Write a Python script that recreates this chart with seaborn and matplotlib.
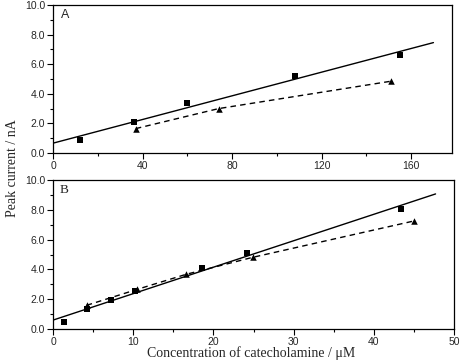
import numpy as np
import pandas as pd
import matplotlib
matplotlib.use("Agg")
import matplotlib.pyplot as plt
import seaborn as sns
from matplotlib.ticker import MultipleLocator, FormatStrFormatter

# ---- data ----
a_sq_x = [12, 36, 60, 108, 155]
a_sq_y = [0.85, 2.1, 3.4, 5.2, 6.6]
a_tri_x = [37, 74, 151]
a_tri_y = [1.65, 3.0, 4.85]

b_sq_x = [1.4, 4.3, 7.25, 10.2, 18.6, 24.2, 43.4]
b_sq_y = [0.47, 1.36, 1.93, 2.57, 4.09, 5.1, 8.07]
b_tri_x = [4.2, 10.5, 16.6, 24.9, 45.0]
b_tri_y = [1.59, 2.66, 3.67, 4.81, 7.25]

panel_labels = ["A", "B"]
xlabel = "Concentration of catecholamine / \u03bcM"
ylabel = "Peak current / nA"

sns.set_style("ticks")
plt.rcParams["font.family"] = "sans-serif"
plt.rcParams["font.sans-serif"] = ["Liberation Sans", "Arial", "DejaVu Sans"]

fig = plt.figure(figsize=(4.61, 3.63), dpi=100)
axA = fig.add_axes([53/461, 1-153/363, (452-53)/461, 148/363])
axB = fig.add_axes([53/461, 1-329/363, (454-53)/461, 149/363])

def draw(ax, sx, sy, tx, ty, fit_end, xlim, xmaj, xmin):
    dfs = pd.DataFrame({"x": sx, "y": sy})
    dft = pd.DataFrame({"x": tx, "y": ty})
    k, b0 = np.polyfit(sx, sy, 1)
    xs = np.array([0, fit_end])
    fit = pd.DataFrame({"x": xs, "y": k * xs + b0})
    sns.lineplot(data=fit, x="x", y="y", ax=ax, color="black", lw=1.0)
    sns.lineplot(data=dft, x="x", y="y", ax=ax, color="black", lw=1.0,
                 linestyle=(0, (4, 3)))
    sns.scatterplot(data=dfs, x="x", y="y", ax=ax, marker="s", color="black",
                    s=15, edgecolor="black", linewidth=0, zorder=5)
    sns.scatterplot(data=dft, x="x", y="y", ax=ax, marker="^", color="black",
                    s=22, edgecolor="black", linewidth=0, zorder=5)
    ax.set_xlim(*xlim)
    ax.set_ylim(0, 10)
    ax.xaxis.set_major_locator(MultipleLocator(xmaj))
    ax.xaxis.set_minor_locator(MultipleLocator(xmin))
    ax.yaxis.set_major_locator(MultipleLocator(2))
    ax.yaxis.set_minor_locator(MultipleLocator(1))
    ax.yaxis.set_major_formatter(FormatStrFormatter("%.1f"))
    ax.tick_params(which="major", length=4, width=0.8, labelsize=7.5, pad=1.5,
                   direction="out", color="black")
    ax.tick_params(which="minor", length=2, width=0.8, direction="out",
                   color="black")
    ax.tick_params(top=False, right=False)
    for lab in ax.get_xticklabels() + ax.get_yticklabels():
        lab.set_fontfamily(["Liberation Sans", "DejaVu Sans"])
    for s in ax.spines.values():
        s.set_visible(True)
        s.set_color("black")
        s.set_linewidth(0.9)
    ax.set_xlabel("")
    ax.set_ylabel("")

draw(axA, a_sq_x, a_sq_y, a_tri_x, a_tri_y, 170, (0, 178.3), 40, 20)
draw(axB, b_sq_x, b_sq_y, b_tri_x, b_tri_y, 47.7, (0, 50), 10, 5)

axA.text(0.02, 0.97, panel_labels[0], transform=axA.transAxes, ha="left",
         va="top", fontsize=9, family=["Liberation Sans"])
axB.text(0.017, 0.97, panel_labels[1], transform=axB.transAxes, ha="left",
         va="top", fontsize=9.5, family=["Liberation Serif"])

fig.text(251/461, 1-353/363, xlabel, ha="center", va="center", fontsize=10,
         family=["Liberation Serif", "DejaVu Serif"])
fig.text(12/461, 1-168/363, ylabel, ha="center", va="center", rotation=90,
         fontsize=10, family=["Liberation Serif", "DejaVu Serif"])

fig.savefig("out.png", dpi=100)
